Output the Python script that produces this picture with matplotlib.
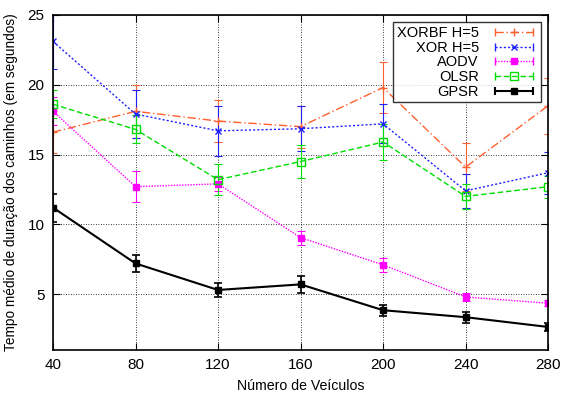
import matplotlib
matplotlib.use("Agg")
import matplotlib.pyplot as plt
from matplotlib.lines import Line2D
from matplotlib.legend_handler import HandlerLine2D, HandlerTuple

plt.rcParams['font.family'] = ['Liberation Sans', 'DejaVu Sans']

x = [40, 80, 120, 160, 200, 240, 280]

xorbf = [16.6, 18.1, 17.4, 17.0, 19.8, 14.1, 18.5]
xorbf_err = [1.5, 1.9, 1.5, 1.5, 1.8, 1.7, 2.0]

xor = [23.1, 17.9, 16.7, 16.85, 17.2, 12.4, 13.7]
xor_err = [2.0, 1.7, 1.8, 1.6, 1.4, 1.2, 1.5]

aodv = [18.1, 12.7, 12.9, 9.05, 7.1, 4.8, 4.35]
aodv_err = [1.0, 1.1, 0.5, 0.5, 0.5, 0.3, 0.2]

olsr = [18.6, 16.8, 13.2, 14.5, 15.9, 12.0, 12.7]
olsr_err = [1.0, 1.0, 1.1, 1.2, 1.3, 0.9, 0.8]

gpsr = [11.2, 7.2, 5.3, 5.7, 3.85, 3.35, 2.65]
gpsr_err = [1.0, 0.6, 0.5, 0.6, 0.4, 0.4, 0.3]

labels = ['XORBF H=5', 'XOR H=5', 'AODV', 'OLSR', 'GPSR']

fig = plt.figure(figsize=(5.61, 3.94), dpi=100)
ax = fig.add_axes([0.0945, 0.1117, 0.8825, 0.8503])

series = [
    (xorbf, xorbf_err, '#ff6030', (0, (6, 2, 1, 2)), '+', 6, 'none', 1.0),
    (xor, xor_err, '#2020ff', (0, (1.5, 1.5)), 'x', 5, 'none', 1.0),
    (aodv, aodv_err, '#ff00ff', (0, (1, 1)), 's', 4, '#ff00ff', 1.0),
    (olsr, olsr_err, '#00dd00', (0, (4, 2)), 's', 6, 'none', 1.0),
    (gpsr, gpsr_err, '#000000', '-', 's', 5, '#000000', 1.5),
]

handles = []
hmap = {}
for (y, e, c, ls, m, ms, mfc, lw), lab in zip(series, labels):
    cont = ax.errorbar(x, y, yerr=e, color=c, linestyle=ls, marker=m, markersize=ms,
                       markerfacecolor=mfc, markeredgecolor=c, linewidth=lw,
                       elinewidth=lw * 0.8, capsize=3, capthick=lw * 0.8)
    caps = Line2D([], [], color=c, linestyle=ls, linewidth=lw, marker='|',
                  markersize=6, markeredgewidth=lw)
    main = Line2D([], [], color=c, linestyle='none', marker=m, markersize=ms,
                  markerfacecolor=mfc, markeredgecolor=c)
    hmap[caps] = HandlerLine2D(numpoints=2)
    hmap[main] = HandlerLine2D(numpoints=1)
    handles.append((caps, main))

hmap[tuple] = HandlerTuple(ndivide=1, pad=0)

ax.set_xlim(40, 280)
ax.set_ylim(1, 25)
ax.set_xticks(x)
ax.set_yticks([5, 10, 15, 20, 25])
ax.tick_params(direction='in', top=True, right=True, labelsize=11, length=5, pad=6)
ax.grid(True, color='black', linestyle=(0, (1, 2)), linewidth=0.6)
for s in ax.spines.values():
    s.set_linewidth(1.2)

ax.set_xlabel('Número de Veículos', fontsize=10.2, labelpad=5)
ax.set_ylabel('Tempo médio de duração dos caminhos (em segundos)', fontsize=9.8, labelpad=7)

leg = ax.legend(handles, labels, handler_map=hmap, loc='upper right', markerfirst=False,
                fontsize=10.5, frameon=True, fancybox=False, edgecolor='black',
                borderpad=0.25, labelspacing=0.05, handlelength=3.2, handletextpad=0.8,
                borderaxespad=0.5)
leg.get_frame().set_linewidth(1.0)

fig.savefig('out.png', dpi=100)
